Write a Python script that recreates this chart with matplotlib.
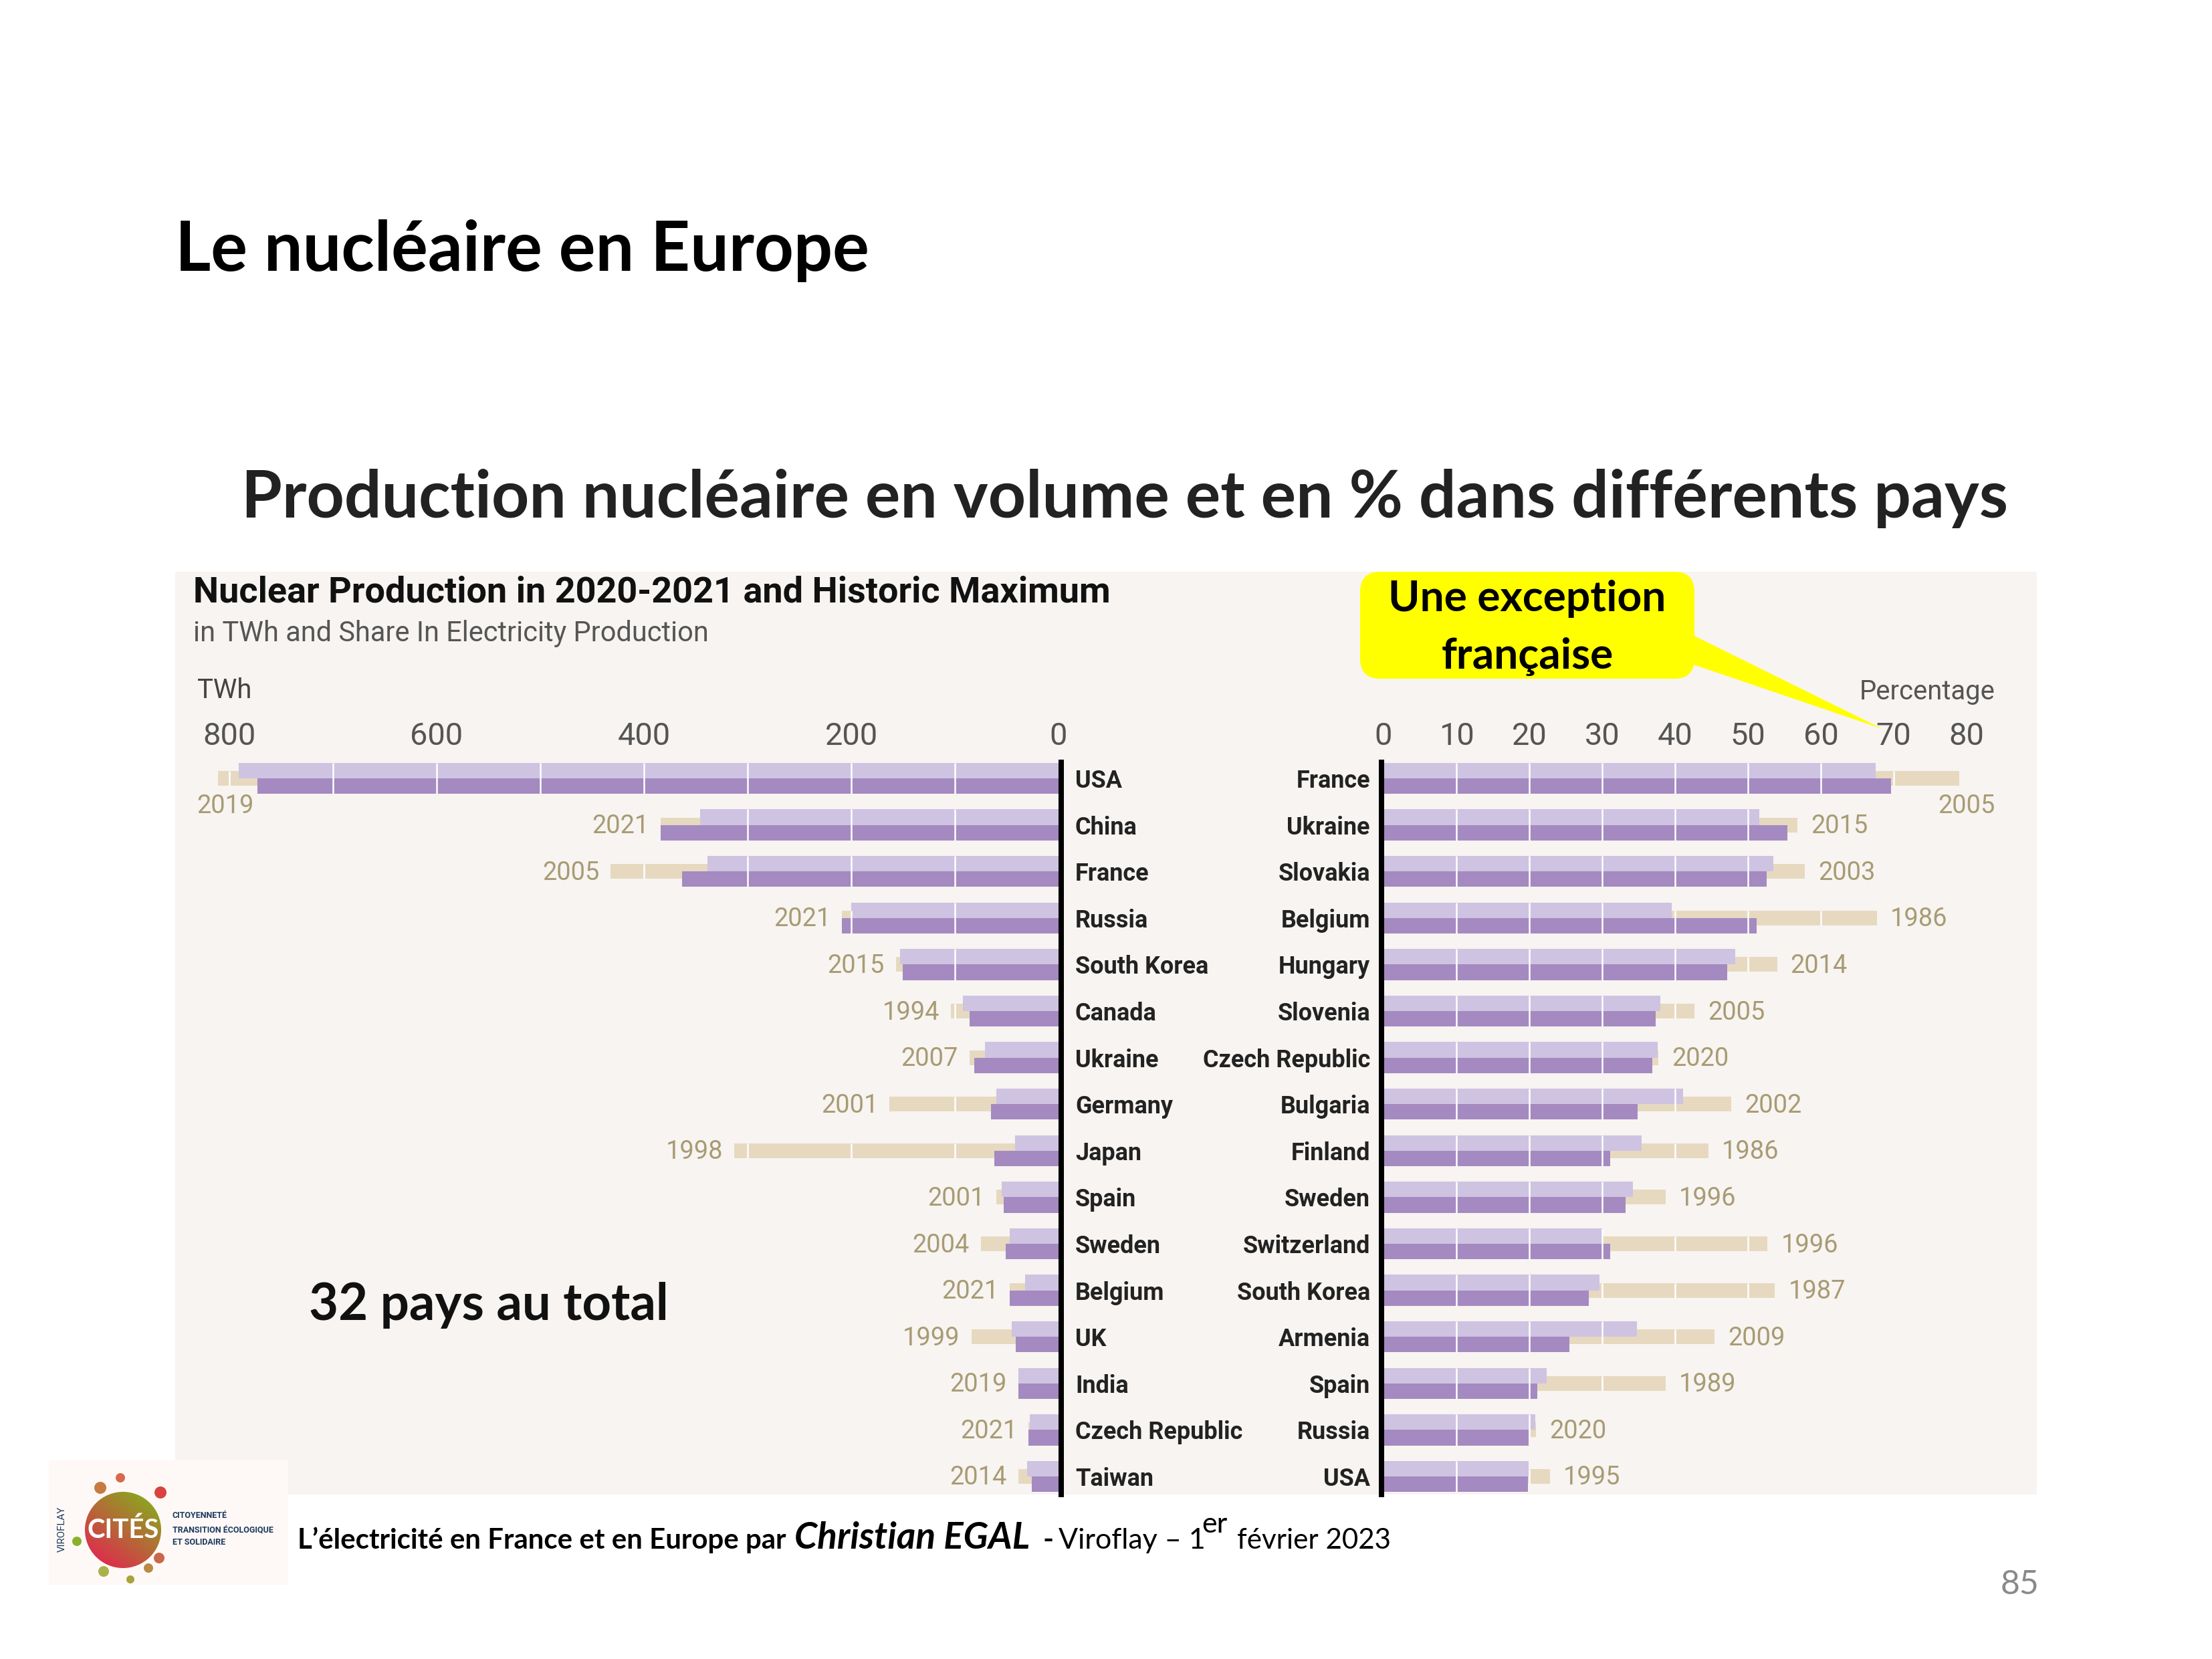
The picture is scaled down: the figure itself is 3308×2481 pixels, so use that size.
import numpy as np
import matplotlib
matplotlib.use("Agg")
import matplotlib.pyplot as plt
from matplotlib.patches import Rectangle, FancyBboxPatch, Polygon, Circle

W, H = 3308, 2481
DPI = 100

# ---------- data ----------
left_countries = ["USA", "China", "France", "Russia", "South Korea", "Canada", "Ukraine", "Germany",
                  "Japan", "Spain", "Sweden", "Belgium", "UK", "India", "Czech Republic", "Taiwan"]
left_2021 = [791, 346, 339, 200, 153, 92, 71, 60, 42, 55, 47, 32, 45, 39, 28, 30]
left_2020 = [773, 384, 363, 209, 150, 86, 81, 65, 62, 53, 51, 47, 41, 39, 29, 26]
left_max = [811, 384, 432, 209, 157, 104, 86, 163, 313, 60, 75, 47, 84, 39, 29, 39]
left_years = ["2019", "2021", "2005", "2021", "2015", "1994", "2007", "2001",
              "1998", "2001", "2004", "2021", "1999", "2019", "2021", "2014"]

right_countries = ["France", "Ukraine", "Slovakia", "Belgium", "Hungary", "Slovenia", "Czech Republic", "Bulgaria",
                   "Finland", "Sweden", "Switzerland", "South Korea", "Armenia", "Spain", "Russia", "USA"]
right_2021 = [67.5, 51.6, 53.5, 39.5, 48.3, 38.0, 37.6, 41.1, 35.4, 34.2, 30.1, 29.6, 34.8, 22.4, 20.8, 19.9]
right_2020 = [69.6, 55.4, 52.6, 51.2, 47.2, 37.3, 36.9, 34.9, 31.1, 33.2, 31.1, 28.2, 25.5, 21.1, 19.9, 19.8]
right_max = [79.0, 56.8, 57.8, 67.7, 54.0, 42.7, 37.7, 47.7, 44.6, 38.7, 52.7, 53.7, 45.4, 38.7, 20.9, 22.8]
right_years = ["2005", "2015", "2003", "1986", "2014", "2005", "2020", "2002",
               "1986", "1996", "1996", "1987", "2009", "1989", "2020", "1995"]

left_ticks = [800, 600, 400, 200, 0]
right_ticks = [0, 10, 20, 30, 40, 50, 60, 70, 80]

# ---------- style ----------
LIGHT, DARK, HIST = "#CFC3E2", "#A48AC0", "#E6D9C0"
PANEL, YEAR, AXTXT = "#F7F4F1", "#A89B74", "#555555"
SANS = ["Roboto", "DejaVu Sans"]
SLIDE = ["Lato", "DejaVu Sans"]


def pt(px):
    return px * 72 / DPI


fig = plt.figure(figsize=(W / DPI, H / DPI), dpi=DPI, facecolor="white")
bg = fig.add_axes([0, 0, 1, 1])
bg.set_xlim(0, W)
bg.set_ylim(H, 0)
bg.axis("off")

# panel
bg.add_patch(Rectangle((262, 855), 3046 - 262, 2235 - 855, fc=PANEL, ec="none", zorder=0))


def make_axes(x0, x1, y0, y1):
    return fig.add_axes([x0 / W, 1 - y1 / H, (x1 - x0) / W, (y1 - y0) / H], facecolor="none")


ROW0, ROWH = 1164.0, 69.6
Y0, Y1 = 1130, 2235
ylim = ((Y1 - ROW0) / ROWH, (Y0 - ROW0) / ROWH)


def draw_side(ax, cur, prev, hist, years, step, sign):
    ys = np.arange(len(cur))
    ax.barh(ys, hist, height=0.316, color=HIST, zorder=1)
    ax.barh(ys - 0.167, cur, height=0.334, color=LIGHT, zorder=2)
    ax.barh(ys + 0.167, prev, height=0.334, color=DARK, zorder=2)
    for i in ys:
        top = max(cur[i], prev[i])
        for g in np.arange(step, max(top, hist[i]), step):
            if g < top or g < hist[i]:
                ya, yb = i - 0.334, i + 0.334
                if g >= cur[i]:
                    ya = i - 0.158
                if g >= prev[i] and g >= hist[i]:
                    yb = i
                if g >= prev[i] and g < hist[i]:
                    yb = i + 0.158
                ax.plot([g, g], [ya, yb], color="white", lw=pt(2.5), zorder=3, solid_capstyle="butt")
    ax.set_ylim(*ylim)
    ax.tick_params(axis="x", length=0, top=True, bottom=False, labeltop=True, labelbottom=False,
                   pad=pt(7), labelsize=pt(47), labelcolor=AXTXT)
    for s in ax.spines.values():
        s.set_visible(False)
    for i, (h, y) in enumerate(zip(hist, years)):
        if i == 0:
            ax.annotate(y, (h, i), xytext=(11, -41), textcoords="offset pixels", ha="center", va="center",
                        color=YEAR, fontsize=pt(38), family=SANS)
        else:
            ax.annotate(y, (h, i), xytext=(sign * (17 if sign < 0 else 20), -2), textcoords="offset pixels",
                        ha="right" if sign < 0 else "left", va="center",
                        color=YEAR, fontsize=pt(38), family=SANS)


def finish_labels(ax, names, ha):
    # spine.set_position resets the ticks, so the labels are styled last
    ax.set_yticks(np.arange(len(names)))
    ax.set_yticklabels(names, family=SANS, fontweight="bold", fontsize=pt(36), color="#222222", ha=ha)
    ax.tick_params(axis="y", length=0)
    for lab in ax.get_xticklabels():
        lab.set_family(SANS)


# left panel: 100 TWh = 155 px, zero at x=1583
L0 = 1583
axl = make_axes(262, L0, Y0, Y1)
axl.set_xlim((L0 - 262) / 1.55, 0)
axl.set_xticks(left_ticks)
draw_side(axl, left_2021, left_2020, left_max, left_years, 100, -1)
axl.spines["right"].set_visible(True)
axl.spines["right"].set_position(("outward", pt(4)))
axl.spines["right"].set_linewidth(pt(8))
axl.spines["right"].set_bounds(-0.34, ylim[0])
axl.yaxis.tick_right()
axl.tick_params(axis="y", pad=pt(21))
finish_labels(axl, left_countries, "left")

# right panel: 10 % = 109 px, zero at x=2069
R0 = 2069
axr = make_axes(R0, 3046, Y0, Y1)
axr.set_xlim(0, (3046 - R0) / 10.9)
axr.set_xticks(right_ticks)
draw_side(axr, right_2021, right_2020, right_max, right_years, 10, 1)
axr.spines["left"].set_visible(True)
axr.spines["left"].set_position(("outward", pt(3)))
axr.spines["left"].set_linewidth(pt(8))
axr.spines["left"].set_bounds(-0.34, ylim[0])
axr.tick_params(axis="y", pad=pt(17))
finish_labels(axr, right_countries, "right")

# chart headings
bg.text(289, 886, "Nuclear Production in 2020-2021 and Historic Maximum", fontsize=pt(54), fontweight="bold",
        family=SANS, color="#111111", va="center")
bg.text(289, 947, "in TWh and Share In Electricity Production", fontsize=pt(41.5), family=SANS, color="#555555",
        va="center")
bg.text(295, 1032, "TWh", fontsize=pt(40), family=SANS, color="#444444", va="center")
bg.text(2984, 1034, "Percentage", fontsize=pt(40), family=SANS, color="#555555", va="center", ha="right")

# callout
bg.add_patch(Polygon([(2530, 949), (2815, 1090), (2530, 993)], fc="#FFFF00", ec="none", zorder=5))
bg.add_patch(FancyBboxPatch((2054, 875), 460, 120, boxstyle="round,pad=20,rounding_size=30",
                            fc="#FFFF00", ec="none", zorder=5))
bg.text(2284, 896, "Une exception", fontsize=pt(64), fontweight="bold", family=SLIDE, ha="center", va="center", zorder=6)
bg.text(2284, 982, "française", fontsize=pt(64), fontweight="bold", family=SLIDE, ha="center", va="center", zorder=6)

# slide text
bg.text(262, 375, "Le nucléaire en Europe", fontsize=pt(102.5), fontweight="bold", family=SLIDE, color="black", va="center")
bg.text(361, 745, "Production nucléaire en volume et en % dans différents pays", fontsize=pt(98.4), fontweight="bold",
        family=SLIDE, color="#222222", va="center")
bg.text(462, 1952, "32 pays au total", fontsize=pt(76), fontweight="bold", family=SLIDE, color="#111111", va="center")

# footer
FY = 2316
bg.text(445, FY, "L’électricité en France et en Europe par", fontsize=pt(42), fontweight="bold", family=SLIDE, va="baseline")
bg.text(1188, FY, "Christian EGAL", fontsize=pt(55), fontweight="bold", style="italic", family=SLIDE, va="baseline")
bg.text(1560, FY, "-", fontsize=pt(43), fontweight="bold", family=SLIDE, va="baseline")
bg.text(1583, FY, "Viroflay – 1", fontsize=pt(43), family=SLIDE, va="baseline")
bg.text(1797, FY - 24, "er", fontsize=pt(43), family=SLIDE, va="baseline")
bg.text(1850, FY, "février 2023", fontsize=pt(42), family=SLIDE, va="baseline")
bg.text(3049, 2370, "85", fontsize=pt(50), family=SLIDE, color="#8A8A8A", ha="right", va="center")

# logo
bg.add_patch(Rectangle((73, 2184), 358, 186, fc="#FEF9F6", ec="none", zorder=1))
grad = np.linspace(0, 1, 64)
gx, gy = np.meshgrid(grad, grad)
t = (gx * 0.6 + (1 - gy) * 0.8) / 1.4
c0, c1 = np.array([0.92, 0.10, 0.33]), np.array([0.50, 0.72, 0.10])
img = c0[None, None, :] * (1 - t[..., None]) + c1[None, None, :] * t[..., None]
im = bg.imshow(img, extent=(127, 241, 2345, 2231), zorder=2, aspect="auto")
im.set_clip_path(Circle((184, 2288), 57, transform=bg.transData))
bg.set_xlim(0, W)
bg.set_ylim(H, 0)
for (cx, cy, r, col) in [(180, 2210, 7, "#D9694A"), (240, 2232, 9, "#D8433F"), (238, 2330, 8, "#C9684A"),
                         (195, 2362, 6, "#A9A33A"), (115, 2305, 7, "#8BB02A"), (150, 2225, 9, "#C77B3F"),
                         (155, 2350, 8, "#A9B24A"), (222, 2345, 7, "#B98A45")]:
    bg.add_patch(Circle((cx, cy), r, fc=col, ec="none", zorder=2))
bg.text(184, 2288, "CITÉS", fontsize=pt(40), fontweight="bold", family=SLIDE, color="white", ha="center", va="center",
        zorder=3)
bg.text(93, 2287, "VIROFLAY", fontsize=pt(15), family=SANS, color="#1F3A5F", rotation=90, ha="center", va="center", zorder=3)
for yy, s in [(2267, "CITOYENNETÉ"), (2288, "TRANSITION ÉCOLOGIQUE"), (2307, "ET SOLIDAIRE")]:
    bg.text(258, yy, s, fontsize=pt(12.5), fontweight="bold", family=SANS, color="#1F3A5F", va="center", zorder=3)

fig.savefig("out.png", dpi=DPI, facecolor="white")
